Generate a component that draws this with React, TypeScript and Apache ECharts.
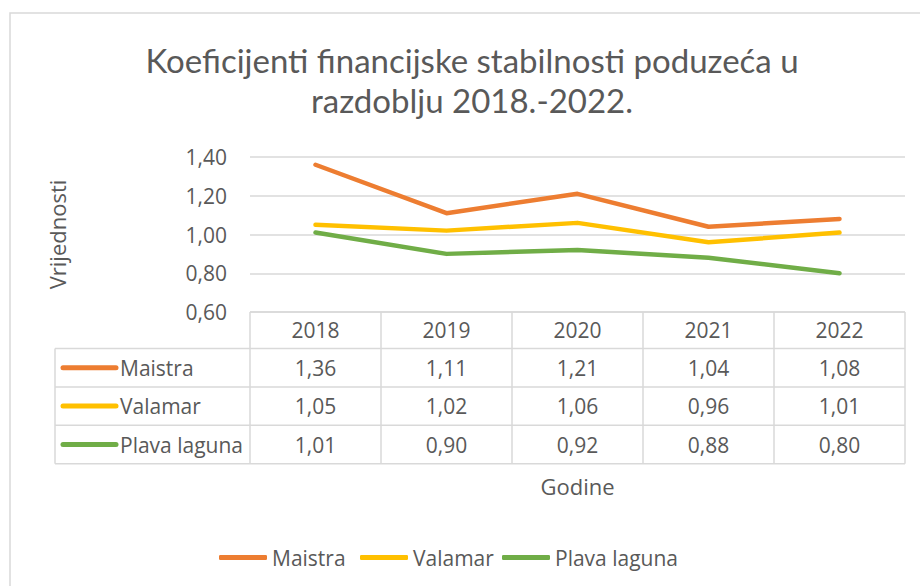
import React, { useEffect, useRef } from "react";
import * as echarts from "echarts";

const categories = ["2018", "2019", "2020", "2021", "2022"];
const seriesNames = ["Maistra", "Valamar", "Plava laguna"];
const maistra = [1.36, 1.11, 1.21, 1.04, 1.08];
const valamar = [1.05, 1.02, 1.06, 0.96, 1.01];
const plavaLaguna = [1.01, 0.9, 0.92, 0.88, 0.8];
const seriesValues = [maistra, valamar, plavaLaguna];
const seriesColors = ["#ED7D31", "#FFC000", "#70AD47"];
const titleLines = ["Koeficijenti financijske stabilnosti poduzeća u", "razdoblju 2018.-2022."];
const yMin = 0.6;
const yMax = 1.4;
const yInterval = 0.2;

const FONT = "'Open Sans', sans-serif";
const TITLE_FONT = "Lato, 'Open Sans', sans-serif";
const TEXT = "#595959";
const BORDER = "#d9d9d9";
const FS = 21;

const fmt = (v: number) => v.toFixed(2).replace(".", ",");

export default function App() {
  const ref = useRef<HTMLDivElement>(null);
  useEffect(() => {
    document.body.style.margin = "0";
    const chart = echarts.init(ref.current!, undefined, { renderer: "svg" });
    const legendLefts = [214, 355, 497];
    const option: any = {
      animation: false,
      backgroundColor: "#ffffff",
      textStyle: { fontFamily: FONT },
      title: titleLines.map((t, i) => ({
        text: t,
        left: 472,
        top: 42 + i * 40,
        textAlign: "center",
        padding: 0,
        textStyle: {
          fontFamily: TITLE_FONT,
          fontSize: 33,
          fontWeight: "normal",
          color: TEXT,
          lineHeight: 36,
        },
      })),
      legend: seriesNames.map((n, i) => ({
        data: [n],
        left: legendLefts[i],
        top: 542,
        icon: "roundRect",
        itemWidth: 48,
        itemHeight: 5,
        textStyle: { fontFamily: FONT, fontSize: FS, color: TEXT },
      })),
      grid: { left: 250, right: 15, top: 157, height: 155, containLabel: false },
      xAxis: {
        type: "category",
        data: categories,
        boundaryGap: true,
        axisLine: { show: false },
        axisTick: { show: false },
        axisLabel: { show: false },
        name: "Godine",
        nameLocation: "middle",
        nameGap: 163,
        nameTextStyle: { fontFamily: FONT, fontSize: 22, color: TEXT },
      },
      yAxis: {
        type: "value",
        min: yMin,
        max: yMax,
        interval: yInterval,
        axisLine: { show: false },
        axisTick: { show: false },
        axisLabel: {
          fontFamily: FONT,
          fontSize: FS,
          color: TEXT,
          margin: 23,
          formatter: (v: number) => fmt(v),
        },
        splitLine: { lineStyle: { color: BORDER, width: 1.5 } },
        name: "Vrijednosti",
        nameLocation: "middle",
        nameGap: 182,
        nameRotate: 90,
        nameTextStyle: { fontFamily: FONT, fontSize: 22, color: TEXT },
      },
      series: seriesNames.map((n, i) => ({
        name: n,
        type: "line",
        data: seriesValues[i],
        symbol: "none",
        showSymbol: false,
        lineStyle: { color: seriesColors[i], width: 4.5, cap: "round", join: "round" },
        itemStyle: { color: seriesColors[i] },
      })),
    };
    chart.setOption(option);

    const c0 = chart.convertToPixel({ xAxisIndex: 0 }, 0) as number;
    const c1 = chart.convertToPixel({ xAxisIndex: 0 }, 1) as number;
    const colW = c1 - c0;
    const tableLeft = c0 - colW / 2;
    const tableRight = tableLeft + colW * categories.length;
    const yTop = chart.convertToPixel({ yAxisIndex: 0 }, yMin) as number;
    const headerH = 36.5;
    const rowH = 38.4;
    const legendColLeft = 55;
    const rowTops = seriesNames.map((_, i) => yTop + headerH + i * rowH);
    const tableBottom = yTop + headerH + seriesNames.length * rowH;

    const lineStyle = { stroke: BORDER, lineWidth: 1.5 };
    const els: any[] = [];
    els.push({
      type: "rect",
      shape: { x: 10, y: 13, width: 1200, height: 1200 },
      style: { fill: "none", stroke: BORDER, lineWidth: 1.5 },
      silent: true,
    });
    els.push({ type: "line", shape: { x1: tableLeft, y1: yTop, x2: tableRight, y2: yTop }, style: lineStyle });
    [...rowTops, tableBottom].forEach((y) => {
      els.push({ type: "line", shape: { x1: legendColLeft, y1: y, x2: tableRight, y2: y }, style: lineStyle });
    });
    els.push({ type: "line", shape: { x1: legendColLeft, y1: rowTops[0], x2: legendColLeft, y2: tableBottom }, style: lineStyle });
    for (let i = 0; i <= categories.length; i++) {
      const x = tableLeft + i * colW;
      els.push({ type: "line", shape: { x1: x, y1: yTop, x2: x, y2: tableBottom }, style: lineStyle });
    }
    categories.forEach((c, i) => {
      els.push({
        type: "text",
        x: c0 + i * colW,
        y: yTop + headerH / 2,
        style: { text: c, fill: TEXT, font: `${FS}px ${FONT}`, align: "center", verticalAlign: "middle" },
      });
    });
    seriesNames.forEach((n, r) => {
      const cy = rowTops[r] + rowH / 2;
      els.push({
        type: "line",
        shape: { x1: 63, y1: cy, x2: 116, y2: cy },
        style: { stroke: seriesColors[r], lineWidth: 5, lineCap: "round" },
      });
      els.push({
        type: "text",
        x: 120,
        y: cy,
        style: { text: n, fill: TEXT, font: `${FS}px ${FONT}`, align: "left", verticalAlign: "middle" },
      });
      seriesValues[r].forEach((v, i) => {
        els.push({
          type: "text",
          x: c0 + i * colW,
          y: cy,
          style: { text: fmt(v), fill: TEXT, font: `${FS}px ${FONT}`, align: "center", verticalAlign: "middle" },
        });
      });
    });
    chart.setOption({ graphic: { elements: els } });

    return () => chart.dispose();
  }, []);
  return (
    <div
      ref={ref}
      style={{ position: "fixed", left: 0, top: 0, width: 920, height: 586, background: "#fff" }}
    />
  );
}
